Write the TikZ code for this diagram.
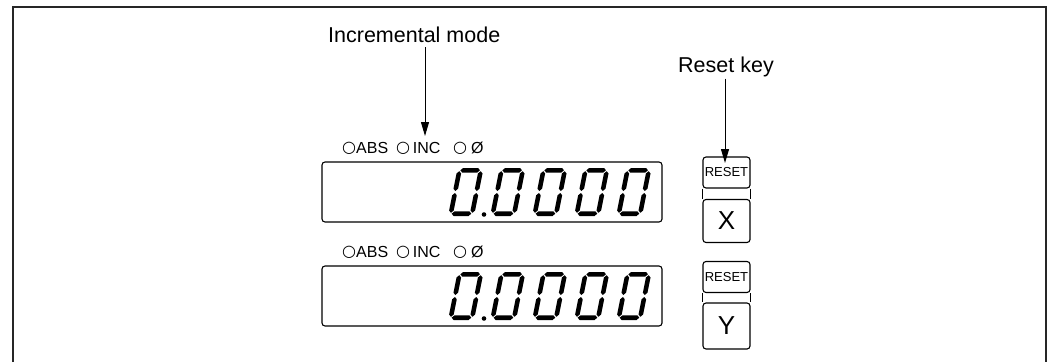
\documentclass[tikz,border=0pt]{standalone}
\usepackage{fontspec}
\setmainfont{Liberation Sans}
\newfontfamily\symfont{DejaVu Sans}
\usetikzlibrary{arrows.meta}
\newcommand\ring{\raisebox{0.8pt}{\symfont\fontsize{16}{16}\selectfont ○}}
\begin{document}
\begin{tikzpicture}[x=1pt,y=-1pt,
  disp/.style={draw, line width=1.1pt, rounded corners=3pt, minimum width=340pt, minimum height=60pt, inner sep=0pt},
  keybox/.style={draw, line width=1.1pt, rounded corners=3pt, minimum width=47pt, inner sep=0pt},
  lbl/.style={font=\fontsize{21.5}{24}\selectfont, inner sep=0pt, anchor=base west},
  ind/.style={font=\fontsize{16}{18}\selectfont, inner sep=0pt, anchor=base west},
  arr/.style={line width=1pt, -{Triangle[length=14pt,width=8pt]}},
  zerodigit/.pic={
    \begin{scope}[xslant=0.2]
      \fill (3.2,-45.7) -- (5.5,-48) -- (20.5,-48) -- (22.8,-45.7) -- (20.5,-43.4) -- (5.5,-43.4) -- cycle;
      \fill (3.2,-2.3) -- (5.5,-4.6) -- (20.5,-4.6) -- (22.8,-2.3) -- (20.5,0) -- (5.5,0) -- cycle;
      \fill (2.3,-3.2) -- (4.6,-5.5) -- (4.6,-20.7) -- (2.3,-23) -- (0,-20.7) -- (0,-5.5) -- cycle;
      \fill (2.3,-25) -- (4.6,-27.3) -- (4.6,-42.5) -- (2.3,-44.8) -- (0,-42.5) -- (0,-27.3) -- cycle;
      \fill (23.7,-3.2) -- (26,-5.5) -- (26,-20.7) -- (23.7,-23) -- (21.4,-20.7) -- (21.4,-5.5) -- cycle;
      \fill (23.7,-25) -- (26,-27.3) -- (26,-42.5) -- (23.7,-44.8) -- (21.4,-42.5) -- (21.4,-27.3) -- cycle;
    \end{scope}
  }]
\useasboundingbox (0,0) rectangle (1050,362);
% outer frame (open at the bottom)
\draw[line width=1.5pt, black!85] (13,362) -- (13,7) -- (1046,7) -- (1046,362);

% labels
\node[lbl] (inclbl) at (328,42) {Incremental mode};
\node[lbl] (rstlbl) at (678,72) {Reset key};
\coordinate (inctip) at (425,136);
\coordinate (rsttip) at (725,163);

% upper display
\node[disp] (dx) at (492,192) {};
\node[ind] (absx) at (342,153) {\ring ABS};
\node[ind] (incx) at (396,153) {\ring\,INC};
\node[ind] (zerox) at (453,153) {\ring\kern4pt Ø};
\foreach \i in {0,...,4} \pic at (448+42*\i,216) {zerodigit};
\fill (484,214.5) circle (2.3pt);

% lower display
\node[disp] (dy) at (492,296) {};
\node[ind] (absy) at (342,257) {\ring ABS};
\node[ind] (incy) at (396,257) {\ring\,INC};
\node[ind] (zeroy) at (453,257) {\ring\kern4pt Ø};
\foreach \i in {0,...,4} \pic at (448+42*\i,320) {zerodigit};
\fill (484,318.5) circle (2.3pt);

% keys X
\node[keybox, minimum height=31pt, font=\fontsize{13}{13}\selectfont] (rx) at (726.5,172.5) {RESET};
\node[keybox, minimum height=43pt, font=\fontsize{26}{28}\selectfont] (kx) at (726.5,221) {X};
\draw[line width=1.1pt] (rx.south west) -- (kx.north west);
\draw[line width=1.1pt] (rx.south east) -- (kx.north east);

% keys Y
\node[keybox, minimum height=31pt, font=\fontsize{13}{13}\selectfont] (ry) at (726.5,277) {RESET};
\node[keybox, minimum height=46pt, font=\fontsize{26}{28}\selectfont] (ky) at (726.5,326) {Y};
\draw[line width=1.1pt] (ry.south west) -- (ky.north west);
\draw[line width=1.1pt] (ry.south east) -- (ky.north east);

% arrows
\draw[arr] ([yshift=-5pt]inclbl.south -| inctip) -- (inctip);
\draw[arr] ([yshift=-2pt]rstlbl.south -| rsttip) -- (rsttip);
\end{tikzpicture}
\end{document}
